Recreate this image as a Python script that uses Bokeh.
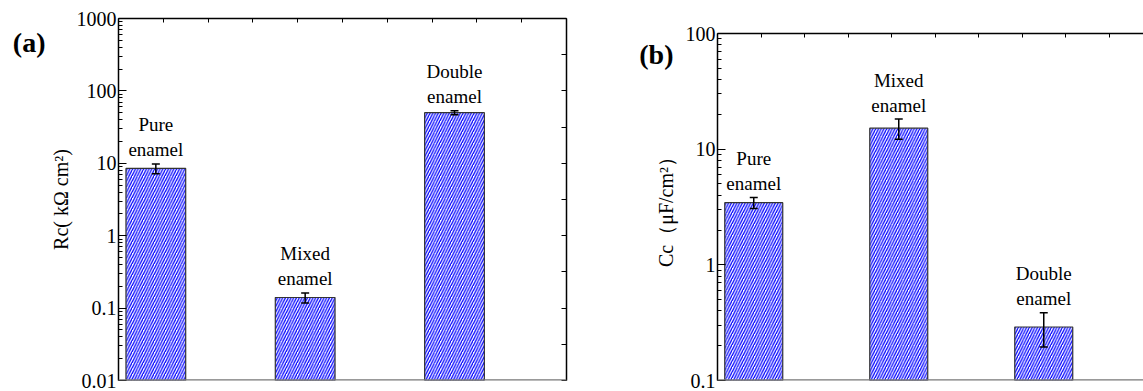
import math
from bokeh.plotting import figure
from bokeh.layouts import row, column
from bokeh.models import (ColumnDataSource, Range1d, LinearAxis, LinearScale, FixedTicker,
                          Whisker, TeeHead, Span, Spacer, CustomJSTickFormatter)
from bokeh.embed import file_html
from bokeh.resources import INLINE
from bokeh.core.properties import value

# ---------------- data ----------------
positions = [1, 2, 3]
label_top = ["Pure", "Mixed", "Double"]
label_bottom = ["enamel", "enamel", "enamel"]

rc_values = [8.5, 0.14, 50.0]
rc_errors = [1.3, 0.022, 3.0]

cc_values = [3.45, 15.2, 0.29]
cc_errors = [0.38, 3.0, 0.095]

rc_ticks = [0.01, 0.1, 1, 10, 100, 1000]
cc_ticks = [0.1, 1, 10, 100]

FONT = "Liberation Serif"
HATCH = "#0000ff"


def minor_for(ticks):
    out = []
    for t in ticks[:-1]:
        out += [t * k for k in range(2, 10)]
    return out


def blank_axis(**kw):
    return LinearAxis(major_tick_out=0, minor_tick_in=0, minor_tick_out=0,
                      formatter=CustomJSTickFormatter(code="return ''"),
                      major_label_text_font_size="1px", major_label_standoff=0,
                      axis_line_width=1.5, axis_line_color="black",
                      major_tick_line_color="black", **kw)


def make_panel(vals, errs, ticks, width, height, bl, br, bt, bb, x_end, tag,
               tag_frac, tag_standoff, title, title_standoff, right_axis):
    x0 = 0.75
    lo, hi = ticks[0], ticks[-1]

    p = figure(width=width, height=height, output_backend="svg", toolbar_location=None,
               x_range=Range1d(x0, x_end), y_range=Range1d(lo, hi), y_axis_type="log",
               x_axis_location=None, min_border_left=bl, min_border_right=br,
               min_border_top=bt, min_border_bottom=bb)
    p.outline_line_color = None
    p.grid.visible = False
    p.background_fill_color = "white"
    p.border_fill_color = "white"

    ya = p.yaxis[0]
    ya.ticker = FixedTicker(ticks=ticks, minor_ticks=minor_for(ticks))
    ya.formatter = CustomJSTickFormatter(code="return String(tick)")
    ya.major_tick_in = 8
    ya.major_tick_out = 0
    ya.minor_tick_in = 4
    ya.minor_tick_out = 0
    ya.axis_line_width = 1.5
    ya.axis_line_color = "black"
    ya.major_tick_line_color = "black"
    ya.minor_tick_line_color = "black"
    ya.major_label_text_font = FONT
    ya.major_label_text_font_size = "20px"
    ya.major_label_text_color = "black"
    ya.major_label_standoff = 2
    ya.axis_label = title
    ya.axis_label_text_font = FONT
    ya.axis_label_text_font_size = "20px"
    ya.axis_label_text_font_style = "normal"
    ya.axis_label_text_color = "black"
    ya.axis_label_standoff = title_standoff

    p.extra_y_ranges = {"r": Range1d(0, 10), "tag": Range1d(0, 1)}
    p.extra_y_scales = {"r": LinearScale(), "tag": LinearScale()}

    # panel tag "(a)" / "(b)" as the single label of an extra, line-less left axis
    tag_axis = LinearAxis(y_range_name="tag", ticker=FixedTicker(ticks=[tag_frac]),
                          formatter=CustomJSTickFormatter(args=dict(t=tag), code="return t"),
                          axis_line_color=None, major_tick_line_color=None,
                          minor_tick_line_color=None, major_label_standoff=tag_standoff,
                          major_tick_in=0, major_tick_out=0,
                          major_label_text_font=FONT, major_label_text_font_size="28px",
                          major_label_text_font_style="bold", major_label_text_color="black")
    p.add_layout(tag_axis, "left")

    # top axis (ticks only)
    top = blank_axis(ticker=FixedTicker(ticks=[x0 + 0.3 * k for k in range(0, 11)]),
                     major_tick_in=4)
    p.add_layout(top, "above")

    if right_axis:
        ra = blank_axis(y_range_name="r", ticker=FixedTicker(ticks=list(range(11))),
                        major_tick_in=5)
        p.add_layout(ra, "right")

    src = ColumnDataSource(dict(x=positions, top=vals,
                                upper=[v + e for v, e in zip(vals, errs)],
                                lower=[v - e for v, e in zip(vals, errs)],
                                t1=label_top, t2=label_bottom))

    p.vbar(x="x", top="top", bottom=lo, width=0.4, source=src, fill_color="white",
           line_color="#333333", line_width=1.2, hatch_pattern="right_diagonal_line",
           hatch_color=HATCH, hatch_scale=5.5, hatch_weight=1.3)

    w = Whisker(source=src, base="x", upper="upper", lower="lower", line_color="black",
                line_width=1.5, level="overlay",
                upper_head=TeeHead(size=8, line_width=1.5, line_color="black"),
                lower_head=TeeHead(size=8, line_width=1.5, line_color="black"))
    p.add_layout(w)

    p.text(x="x", y="upper", text="t2", source=src, y_offset=-14,
           text_align="center", text_baseline="alphabetic",
           text_font=value(FONT), text_font_size="19px", text_color="black")
    p.text(x="x", y="upper", text="t1", source=src, y_offset=-39,
           text_align="center", text_baseline="alphabetic",
           text_font=value(FONT), text_font_size="19px", text_color="black")

    p.add_layout(Span(location=lo, dimension="width", line_color="#777777", line_width=2.5))
    return p


# panel (a): frame from page y 18 down, room kept below for the lowest tick label
pa = make_panel(rc_values, rc_errors, rc_ticks, width=600, height=391,
                bl=118, br=34, bt=18, bb=11, x_end=3.75, tag="(a)",
                tag_frac=0.935, tag_standoff=1, title="Rc( kΩ cm²)", title_standoff=2,
                right_axis=True)
# panel (b): placed 15px lower so its frame starts at page y 33
pb = make_panel(cc_values, cc_errors, cc_ticks, width=543, height=376,
                bl=117, br=0, bt=18, bb=11, x_end=0.75 + 426 / 145.0, tag="(b)",
                tag_frac=0.94, tag_standoff=-22, title="Cc（μF/cm²）", title_standoff=6,
                right_axis=False)

layout = row(pa, column(Spacer(width=543, height=15), pb, spacing=0), spacing=0)
open("out.html", "w").write(file_html(layout, INLINE))
